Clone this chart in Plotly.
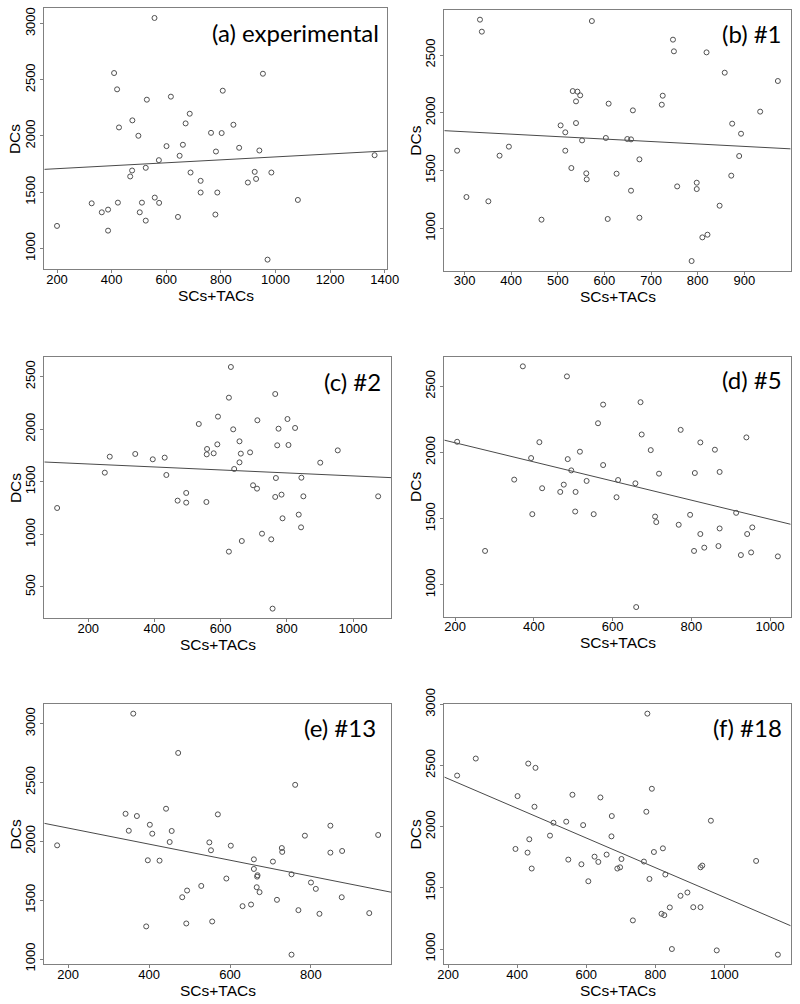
import numpy as np
import plotly.graph_objects as go

# ---------------- data ----------------
a_x = [200,327,364,387,387,409,420,427,423,476,475,468,498,503,511,529,525,525,557,573,558,574,601,617,649,661,643,671,686,689,726,726,764,782,787,780,803,807,846,867,941,954,924,929,899,985,1082,971,1363]
a_y = [1200,1401,1321,1345,1158,2560,2415,2076,1407,2139,1693,1640,2002,1321,1407,2323,1717,1247,3050,1785,1452,1405,1910,2350,1824,1922,1280,2112,2198,1675,1601,1497,2028,1862,1497,1301,2026,2403,2100,1895,1871,2554,1681,1618,1586,1675,1431,900,1829]

b_x = [284,304,333,337,351,375,395,465,506,516,516,529,532,542,548,539,539,552,561,562,573,609,603,607,626,649,657,661,657,675,675,723,725,747,749,756,798,798,787,810,821,819,847,858,874,872,889,893,934,972]
b_y = [1672,1271,2806,2702,1234,1629,1707,1075,1891,1831,1672,1522,2188,2183,2151,2099,1911,1761,1476,1424,2794,2079,1782,1081,1473,1773,1770,2021,1326,1597,1092,2070,2148,2633,2532,1363,1395,1340,717,922,945,2523,1196,2347,1906,1456,1626,1819,2010,2275]

c_x = [106,250,265,342,395,431,436,470,496,496,534,557,559,558,579,592,590,631,625,638,657,661,657,641,689,711,698,710,664,625,725,753,757,765,775,771,767,765,784,787,802,805,825,844,850,836,843,901,954,1076]
c_y = [1251,1587,1739,1765,1714,1730,1565,1321,1394,1302,2050,1308,1812,1761,1771,2120,1856,2592,2300,1999,1885,1768,1685,1622,1780,2085,1467,1435,937,836,1007,953,294,2335,2005,1847,1536,1356,1378,1153,2097,1850,2012,1539,1362,1188,1067,1682,1799,1362]

d_x = [205,276,350,372,393,396,414,421,467,476,484,486,495,506,505,517,534,552,563,576,576,610,614,658,660,671,674,697,708,711,718,768,773,797,809,807,823,823,833,860,872,872,869,914,926,940,942,952,955,1020]
d_y = [2081,1256,1795,2651,1958,1534,2078,1730,1702,1757,2575,1950,1865,1702,1554,2006,1785,1534,2221,2362,1905,1662,1792,1767,832,2380,2136,2018,1516,1474,1840,1454,2171,1529,1845,1256,2076,1384,1281,2021,1853,1426,1293,1544,1225,2114,1384,1245,1434,1215]

e_x = [173,342,350,361,370,393,397,402,408,426,442,451,456,472,482,494,492,529,549,553,556,570,591,602,631,652,659,659,668,667,666,673,706,716,728,729,752,752,761,769,785,800,812,821,848,848,877,876,944,966]
e_y = [1966,2234,2090,3085,2215,1277,1839,2141,2065,1836,2277,1994,2088,2751,1525,1582,1302,1621,1991,1924,1319,2229,1684,1963,1449,1463,1847,1765,1712,1700,1610,1568,1828,1503,1943,1910,1720,1037,2480,1415,2048,1650,1596,1384,2133,1904,1918,1525,1390,2054]

f_x = [226,280,395,401,430,432,435,442,450,453,495,505,542,548,560,586,591,606,624,635,641,659,674,673,690,698,702,735,767,774,777,783,790,796,818,826,822,829,842,848,873,893,910,931,931,936,961,978,1092,1155]
f_y = [2418,2557,1818,2250,1788,2516,1897,1658,2163,2481,1927,2032,2041,1731,2261,1693,2013,1554,1755,1712,2239,1772,2087,1921,1658,1668,1736,1234,1715,2122,2924,1573,2310,1793,1288,1277,1823,1609,1340,1000,1435,1462,1342,1342,1668,1682,2049,989,1720,954]

panel_labels = ["(a) experimental", "(b) #1", "(c) #2", "(d) #5", "(e) #13", "(f) #18"]

a_xticks = [200, 400, 600, 800, 1000, 1200, 1400]
a_yticks = [1000, 1500, 2000, 2500, 3000]
b_xticks = [300, 400, 500, 600, 700, 800, 900]
b_yticks = [1000, 1500, 2000, 2500]
c_xticks = [200, 400, 600, 800, 1000]
c_yticks = [500, 1000, 1500, 2000, 2500]
d_xticks = [200, 400, 600, 800, 1000]
d_yticks = [1000, 1500, 2000, 2500]
e_xticks = [200, 400, 600, 800]
e_yticks = [1000, 1500, 2000, 2500, 3000]
f_xticks = [200, 400, 600, 800, 1000]
f_yticks = [1000, 1500, 2000, 2500, 3000]

x_title = "SCs+TACs"
y_title = "DCs"

# ---------------- layout geometry (window pixels) ----------------
W, H = 800, 1004
# plot boxes: (left, right, top, bottom) in pixels
boxes = [
    (44.3, 387.3, 8.3, 269.3),
    (444.3, 790.7, 10.0, 270.7),
    (44.3, 391.0, 357.3, 618.3),
    (444.3, 790.7, 356.7, 616.7),
    (44.3, 391.0, 704.0, 964.3),
    (444.3, 790.7, 704.0, 964.3),
]
label_pos = [(381, 33), (784, 34), (383, 381), (784, 379), (378, 727), (784, 727)]

series = [(a_x, a_y, a_xticks, a_yticks), (b_x, b_y, b_xticks, b_yticks),
          (c_x, c_y, c_xticks, c_yticks), (d_x, d_y, d_xticks, d_yticks),
          (e_x, e_y, e_xticks, e_yticks), (f_x, f_y, f_xticks, f_yticks)]

def px(v):
    return v / W

def py(v):
    return 1 - v / H

fig = go.Figure()
layout = dict(width=W, height=H, margin=dict(l=0, r=0, t=0, b=0, pad=0),
              plot_bgcolor="white", paper_bgcolor="white", showlegend=False,
              annotations=[])

BOX_COL = "#808080"
tickfont = dict(family="Liberation Sans, Arial", size=13, color="black")
titlefont = dict(family="Liberation Sans, Arial", size=15.5, color="black")

def rng(v):
    lo, hi = min(v), max(v)
    pad = 0.04 * (hi - lo)
    return [lo - pad, hi + pad]

for i, ((xs, ys, xt, yt), (l, r, t, b)) in enumerate(zip(series, boxes)):
    n = "" if i == 0 else str(i + 1)
    xa, ya = "x" + n, "y" + n
    xr, yr = rng(xs), rng(ys)
    slope, icpt = np.polyfit(np.array(xs, float), np.array(ys, float), 1)
    lx = np.array(xr)
    fig.add_trace(go.Scatter(x=lx, y=slope * lx + icpt, mode="lines",
                             line=dict(color="#4a4a4a", width=1),
                             xaxis=xa, yaxis=ya, hoverinfo="skip"))
    fig.add_trace(go.Scatter(x=xs, y=ys, mode="markers",
                             marker=dict(symbol="circle-open", size=5, color="#505050",
                                         line=dict(width=1, color="#505050")),
                             xaxis=xa, yaxis=ya))
    common = dict(showline=True, mirror=True, linecolor=BOX_COL, linewidth=1,
                  ticks="outside", ticklen=3, tickcolor=BOX_COL, tickwidth=1,
                  showgrid=False, zeroline=False, tickfont=tickfont, automargin=False)
    layout["xaxis" + n] = dict(domain=[px(l), px(r)], range=xr, anchor=ya,
                               tickvals=xt, ticktext=[str(v) for v in xt],
                               ticklabelstandoff=-5, **common)
    layout["yaxis" + n] = dict(domain=[py(b), py(t)], range=yr, anchor=xa,
                               tickvals=yt, ticktext=[str(v) for v in yt],
                               tickangle=-90, **common)
    lxp, lyp = label_pos[i]
    layout["annotations"].append(dict(text=panel_labels[i], xref="paper", yref="paper",
                                      x=px(lxp), y=py(lyp), xanchor="right", yanchor="middle",
                                      showarrow=False,
                                      font=dict(family="Lato, Open Sans", size=24, color="black")))
    # axis titles
    layout["annotations"].append(dict(text=x_title, xref="paper", yref="paper",
                                      x=px((l + r) / 2), y=py(b + 26),
                                      xanchor="center", yanchor="middle", showarrow=False,
                                      font=titlefont))
    layout["annotations"].append(dict(text=y_title, xref="paper", yref="paper",
                                      x=px(l - 29), y=py((t + b) / 2),
                                      xanchor="center", yanchor="middle", showarrow=False,
                                      textangle=-90, font=titlefont))

fig.update_layout(**layout)
fig.write_html("out.html", config={"displayModeBar": False},
               post_script="document.body.style.margin='0';document.body.style.overflow='hidden';")
